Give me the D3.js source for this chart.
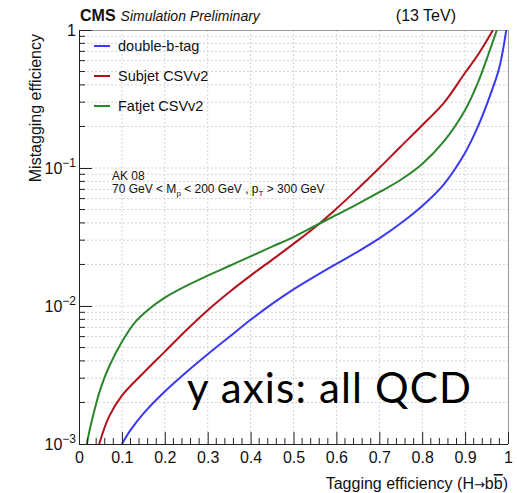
<!DOCTYPE html>
<html><head><meta charset="utf-8">
<script src="https://cdn.jsdelivr.net/npm/d3@7"></script>
<style>
body{margin:0;background:#fff;}
svg{display:block;font-family:"Liberation Sans",Arial,sans-serif;}
</style></head>
<body><svg id="c" width="517" height="493"></svg>
<script>
// Series: tagging efficiency (x) vs mistagging efficiency (y)
const doubleBX = [0.100,0.12,0.15,0.20,0.25,0.30,0.35,0.40,0.45,0.50,0.55,0.60,0.65,0.70,0.75,0.80,0.85,0.90,0.93,0.96,0.98,0.996];
const doubleBY = [0.0010,0.00126,0.00166,0.0024,0.00331,0.00447,0.00596,0.00794,0.01035,0.0132,0.0164,0.0202,0.0248,0.0309,0.0398,0.0531,0.0759,0.129,0.200,0.347,0.537,1.0];
const subjetX = [0.047,0.07,0.10,0.15,0.20,0.25,0.30,0.35,0.40,0.45,0.50,0.55,0.60,0.65,0.70,0.75,0.80,0.85,0.90,0.93,0.965];
const subjetY = [0.0010,0.00158,0.00224,0.00327,0.00467,0.00668,0.00933,0.01259,0.0166,0.0216,0.0282,0.0372,0.0507,0.0708,0.100,0.143,0.204,0.295,0.490,0.661,1.0];
const fatjetX = [0.018,0.03,0.05,0.07,0.10,0.13,0.16,0.20,0.25,0.30,0.35,0.40,0.45,0.50,0.55,0.60,0.65,0.70,0.75,0.80,0.85,0.90,0.93,0.955,0.974];
const fatjetY = [0.0010,0.00148,0.00251,0.00363,0.0055,0.00759,0.00933,0.0115,0.0140,0.0166,0.0195,0.0229,0.0269,0.0316,0.0380,0.0457,0.0550,0.0668,0.0822,0.107,0.155,0.263,0.417,0.676,1.0];
const seriesNames = ["double-b-tag","Subjet CSVv2","Fatjet CSVv2"];
const seriesColors = ["#3a3af5","#b3111b","#2a862a"];
const xTicks = [0,0.1,0.2,0.3,0.4,0.5,0.6,0.7,0.8,0.9,1];
const yTicks = [0.001,0.01,0.1,1];
const yTickLabels = [["10","−3"],["10","−2"],["10","−1"],["1",""]];

const svg = d3.select("#c");
const L=79,R=508,T=30,B=444;
const x = d3.scaleLinear().domain([0,1]).range([L,R]);
const y = d3.scaleLog().domain([0.001,1]).range([B,T]);

// grid
const g = svg.append("g");
const minorY = [];
[0.001,0.01,0.1].forEach(d=>{for(let k=1;k<10;k++) minorY.push(d*k);});
g.selectAll("line.gy").data(minorY.filter(v=>v>0.0011)).join("line")
 .attr("x1",L).attr("x2",R).attr("y1",d=>y(d)).attr("y2",d=>y(d))
 .attr("stroke","#d4d4d4").attr("stroke-width",1).attr("stroke-dasharray","2,2");
g.selectAll("line.gx").data(xTicks.filter(v=>v>0&&v<1)).join("line")
 .attr("x1",d=>x(d)).attr("x2",d=>x(d)).attr("y1",T).attr("y2",B)
 .attr("stroke","#d4d4d4").attr("stroke-width",1).attr("stroke-dasharray","2,2");

// frame top/right
svg.append("line").attr("x1",L).attr("x2",R).attr("y1",T+0.5).attr("y2",T+0.5).attr("stroke","#9a9a9a");
svg.append("line").attr("x1",R+0.5).attr("x2",R+0.5).attr("y1",T).attr("y2",B).attr("stroke","#9a9a9a");

// curves
const line = d3.line().x(d=>x(d[0])).y(d=>y(d[1])).curve(d3.curveCatmullRom.alpha(0.5));
const data = [d3.zip(doubleBX,doubleBY), d3.zip(subjetX,subjetY), d3.zip(fatjetX,fatjetY)];
svg.append("clipPath").attr("id","cp").append("rect").attr("x",L).attr("y",T).attr("width",R-L).attr("height",B-T);
svg.append("g").attr("clip-path","url(#cp)").selectAll("path").data(data).join("path")
 .attr("d",line).attr("fill","none").attr("stroke",(d,i)=>seriesColors[i]).attr("stroke-width",2);

// axes
const xAxis = d3.axisBottom(x).tickValues(xTicks).tickSize(-12).tickPadding(8)
 .tickFormat(d=>d===0?"0":d===1?"1":d3.format(".1f")(d));
const ax = svg.append("g").attr("transform",`translate(0,${B})`).call(xAxis);
ax.select(".domain").attr("stroke","#222").attr("d",`M${L},0.5H${R}`);
ax.selectAll(".tick line").attr("stroke","#222");
ax.selectAll(".tick text").attr("font-size",16).attr("fill","#111").attr("font-family","Liberation Sans, Arial");
const minorX = d3.range(0,1.0001,0.02).filter(v=>Math.abs(v*10-Math.round(v*10))>1e-6);
ax.selectAll("line.mx").data(minorX).join("line").attr("x1",d=>x(d)).attr("x2",d=>x(d)).attr("y1",0).attr("y2",-6).attr("stroke","#222");

const yAxis = d3.axisLeft(y).tickValues(yTicks).tickSize(-13).tickFormat("");
const ay = svg.append("g").attr("transform",`translate(${L},0)`).call(yAxis);
ay.select(".domain").attr("stroke","#222").attr("d",`M0.5,${T}V${B}`);
ay.selectAll(".tick line").attr("stroke","#222");
ay.selectAll("line.my").data(minorY.filter(v=>yTicks.indexOf(v)<0)).join("line")
 .attr("x1",0).attr("x2",6).attr("y1",d=>y(d)).attr("y2",d=>y(d)).attr("stroke","#222");
yTicks.forEach((v,i)=>{
  const t = svg.append("text").attr("x",L-3).attr("y",y(v)+6).attr("text-anchor","end").attr("font-size",16).attr("fill","#111");
  t.append("tspan").text(yTickLabels[i][0]);
  if(yTickLabels[i][1]) t.append("tspan").attr("dy",-7).attr("font-size",12).text(yTickLabels[i][1]);
});

// axis titles
svg.append("text").attr("transform",`translate(41,${T+4}) rotate(-90)`).attr("text-anchor","end")
 .attr("font-size",16).attr("fill","#111").text("Mistagging efficiency");
const xt = svg.append("text").attr("x",R).attr("y",489).attr("text-anchor","end").attr("font-size",16).attr("fill","#111");
xt.append("tspan").text("Tagging efficiency (H");
xt.append("tspan").text("→").attr("font-size",13).attr("font-family","DejaVu Sans");
xt.append("tspan").text("b");
xt.append("tspan").text("b").attr("text-decoration","overline");
xt.append("tspan").text(")");

// header
const h = svg.append("text").attr("x",L+1).attr("y",21).attr("fill","#111");
h.append("tspan").attr("font-weight","bold").attr("font-size",16).text("CMS");
h.append("tspan").attr("font-style","italic").attr("font-size",14).attr("dx",5).text("Simulation Preliminary");
svg.append("text").attr("x",456).attr("y",21).attr("text-anchor","end").attr("font-size",16).attr("fill","#111").text("(13 TeV)");

// legend
const lg = svg.append("g");
seriesNames.forEach((n,i)=>{
  const yy = 46 + i*30;
  lg.append("line").attr("x1",94).attr("x2",110).attr("y1",yy).attr("y2",yy).attr("stroke",seriesColors[i]).attr("stroke-width",2);
  lg.append("text").attr("x",118).attr("y",yy+5).attr("font-size",14.5).attr("fill","#111").text(n);
});

// annotation
svg.append("text").attr("x",112).attr("y",180).attr("font-size",12).attr("fill","#111").text("AK 08");
const an = svg.append("text").attr("x",112).attr("y",193).attr("font-size",12).attr("fill","#111");
an.append("tspan").text("70 GeV < M");
an.append("tspan").attr("dy",3).attr("font-size",8).text("p");
an.append("tspan").attr("dy",-3).text(" < 200 GeV , p");
an.append("tspan").attr("dy",3).attr("font-size",8).text("T");
an.append("tspan").attr("dy",-3).text(" > 300 GeV");

// overlay text
svg.append("text").attr("x",187).attr("y",403).attr("font-family","Lato, 'Open Sans', sans-serif")
 .attr("font-size",42).attr("textLength",284).attr("lengthAdjust","spacing").attr("fill","#000").text("y axis: all QCD");
</script></body></html>
